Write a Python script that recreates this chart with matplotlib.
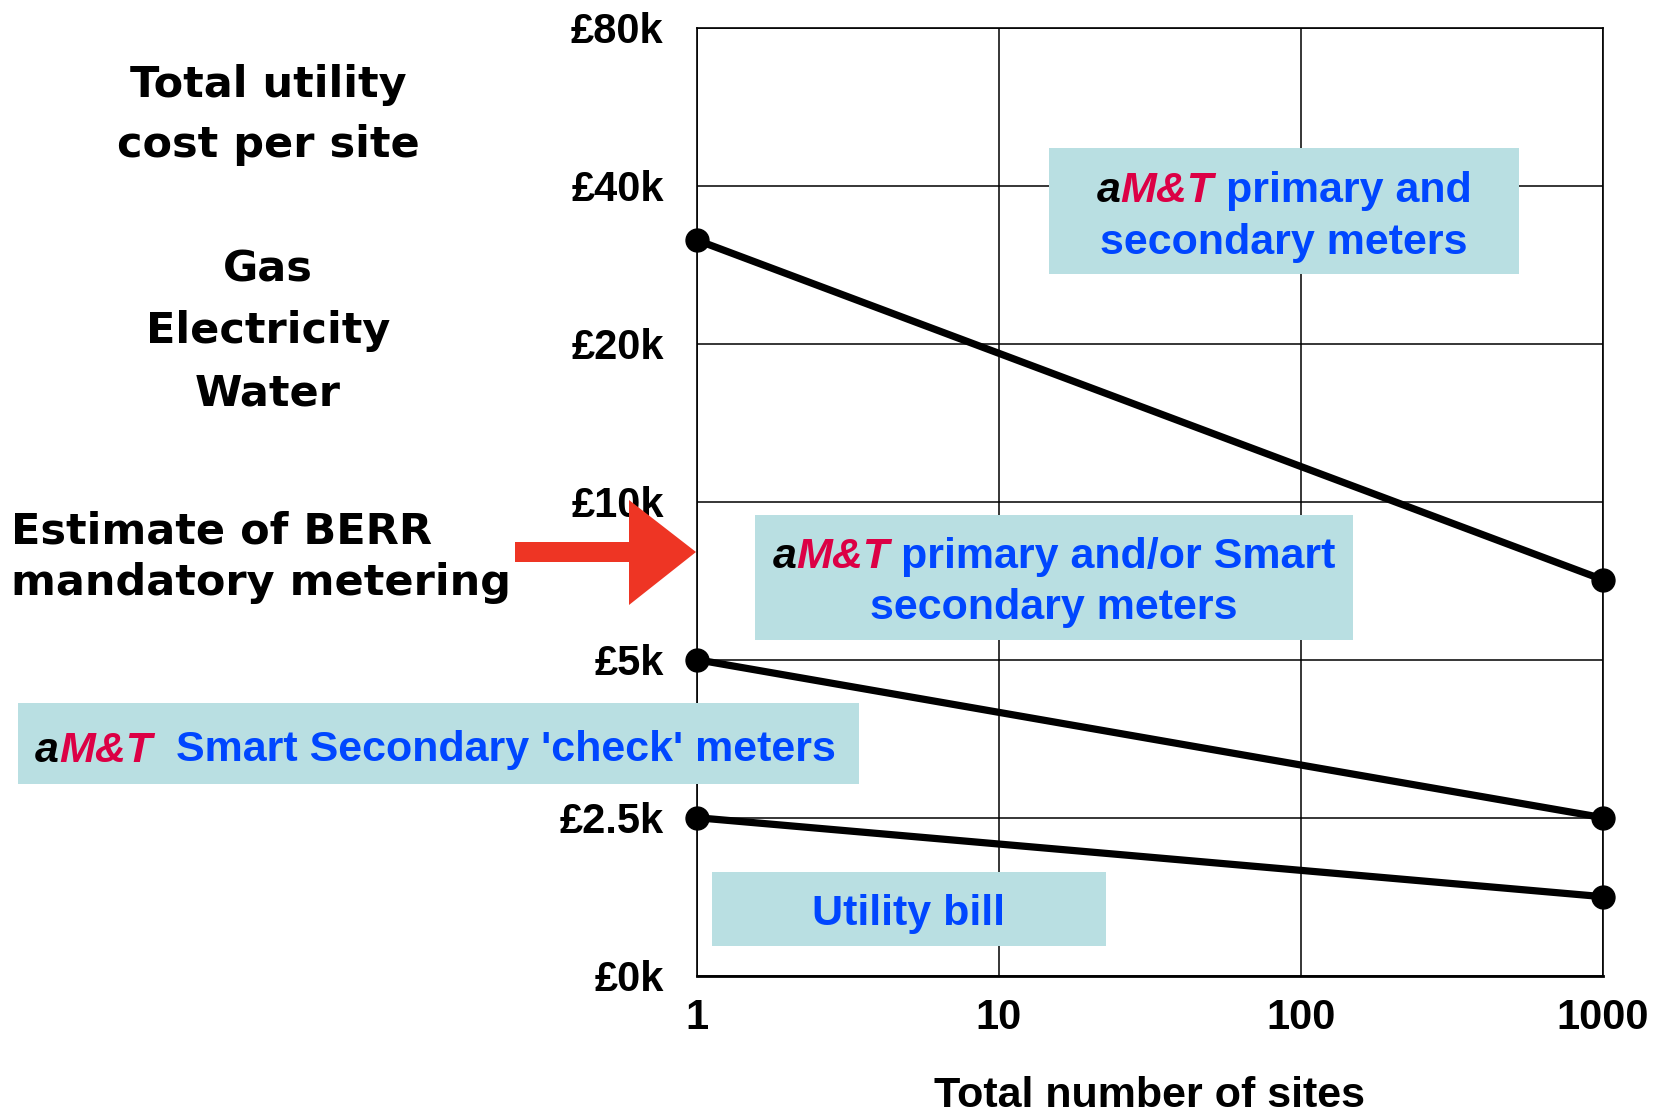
import numpy as np
import matplotlib
matplotlib.use("Agg")
import matplotlib.pyplot as plt
from matplotlib.patches import Rectangle, Polygon
from matplotlib.offsetbox import TextArea, HPacker, VPacker, AnnotationBbox

# ---------------- data ----------------
sites = [1, 1000]
primary_secondary = [31.5, 7.1]      # £k
primary_or_smart = [5.0, 2.5]        # £k
utility_bill = [2.5, 1.25]           # £k
y_ticks = [0, 2.5, 5, 10, 20, 40, 80]
y_tick_labels = ["£0k", "£2.5k", "£5k", "£10k", "£20k", "£40k", "£80k"]
x_ticks = [1, 10, 100, 1000]
x_tick_labels = ["1", "10", "100", "1000"]

W, H = 1662, 1113
fig = plt.figure(figsize=(W / 100, H / 100), dpi=100)


def fx(x):
    return x / W


def fy(y):
    return 1 - y / H


ax = fig.add_axes([fx(697), fy(975.7), (1603 - 697) / W, (975.7 - 27.7) / H])


def fwd(v):
    v = np.asarray(v, dtype=float)
    return np.where(v < 2.5, v / 2.5, 1 + np.log2(np.maximum(v, 2.5) / 2.5))


def inv(p):
    p = np.asarray(p, dtype=float)
    return np.where(p < 1, p * 2.5, 2.5 * 2 ** (np.maximum(p, 1) - 1))


ax.set_xscale("log")
ax.set_yscale("function", functions=(fwd, inv))
ax.set_xlim(1, 1000)
ax.set_ylim(0, 80)
ax.set_xticks(x_ticks)
ax.set_xticklabels(x_tick_labels)
ax.set_yticks(y_ticks)
ax.set_yticklabels(y_tick_labels)
ax.xaxis.set_minor_locator(matplotlib.ticker.NullLocator())
ax.yaxis.set_minor_locator(matplotlib.ticker.NullLocator())

for lab in ax.get_xticklabels() + ax.get_yticklabels():
    lab.set_fontfamily("Liberation Sans")
    lab.set_fontweight("bold")
    lab.set_fontsize(30)
ax.tick_params(axis="both", length=0, colors="black")
ax.tick_params(axis="y", pad=24)
ax.tick_params(axis="x", pad=16)

ax.grid(True, color="black", linewidth=1.1)
ax.set_axisbelow(True)
for s in ["left", "right", "top"]:
    ax.spines[s].set_linewidth(1.2)
ax.spines["bottom"].set_linewidth(2.0)

ax.set_xlabel("Total number of sites", fontfamily="Liberation Sans",
              fontweight="bold", fontsize=31)
ax.xaxis.set_label_coords(0.5, -0.106)

for series in (primary_secondary, primary_or_smart, utility_bill):
    ax.plot(sites, series, color="black", linewidth=5.2, marker="o",
            markersize=16.5, clip_on=False, zorder=5)

# ---------------- left-hand texts ----------------
left_font = dict(family="DejaVu Sans", weight="bold", size=31, color="black")
for txt, y in [("Total utility", 97), ("cost per site", 157), ("Gas", 281),
               ("Electricity", 343), ("Water", 405)]:
    fig.text(fx(268), fy(y), txt, ha="center", va="baseline", **left_font)
for txt, y in [("Estimate of BERR", 543), ("mandatory metering", 595)]:
    fig.text(fx(11), fy(y), txt, ha="left", va="baseline", **left_font)

# red arrow
arrow_px = [(515, 542), (629, 542), (629, 500), (696, 552),
            (629, 605), (629, 562), (515, 562)]
fig.add_artist(Polygon([(fx(x), fy(y)) for x, y in arrow_px], closed=True,
                       facecolor="#ee3524", edgecolor="none",
                       transform=fig.transFigure, zorder=6))

# ---------------- boxes ----------------
BOX = "#b9dfe2"
BLUE = "#0046ff"
CRIMSON = "#dc0045"
FS = 31


def ta(text, color, italic=False):
    return TextArea(text, textprops=dict(color=color, fontsize=FS,
                                         fontweight="bold",
                                         fontstyle="italic" if italic else "normal",
                                         family="Liberation Sans"))


def amt_line(rest):
    return HPacker(children=[ta("a", "black", True), ta("M&T", CRIMSON, True),
                             ta(rest, BLUE)], sep=0, pad=0, align="baseline")


def add_box(x0, y0, x1, y1, content, dx=0, dy=0):
    fig.add_artist(Rectangle((fx(x0), fy(y1)), (x1 - x0) / W, (y1 - y0) / H,
                             facecolor=BOX, edgecolor="none",
                             transform=fig.transFigure, zorder=7))
    ab = AnnotationBbox(content, (fx((x0 + x1) / 2 + dx), fy((y0 + y1) / 2 + dy)),
                        xycoords="figure fraction", frameon=False,
                        box_alignment=(0.5, 0.5), pad=0)
    ab.set_zorder(8)
    fig.add_artist(ab)


add_box(1049, 148, 1519, 274,
        VPacker(children=[amt_line(" primary and"),
                          ta("secondary meters", BLUE)],
                sep=8, pad=0, align="center"), dy=6)
add_box(755, 515, 1353, 640,
        VPacker(children=[amt_line(" primary and/or Smart"),
                          ta("secondary meters", BLUE)],
                sep=8, pad=0, align="center"), dy=5)
add_box(18, 703, 859, 784, amt_line("  Smart Secondary 'check' meters"),
        dx=-3, dy=7)
add_box(712, 872, 1106, 946, ta("Utility bill", BLUE), dy=5)

fig.savefig("out.png", dpi=100)
